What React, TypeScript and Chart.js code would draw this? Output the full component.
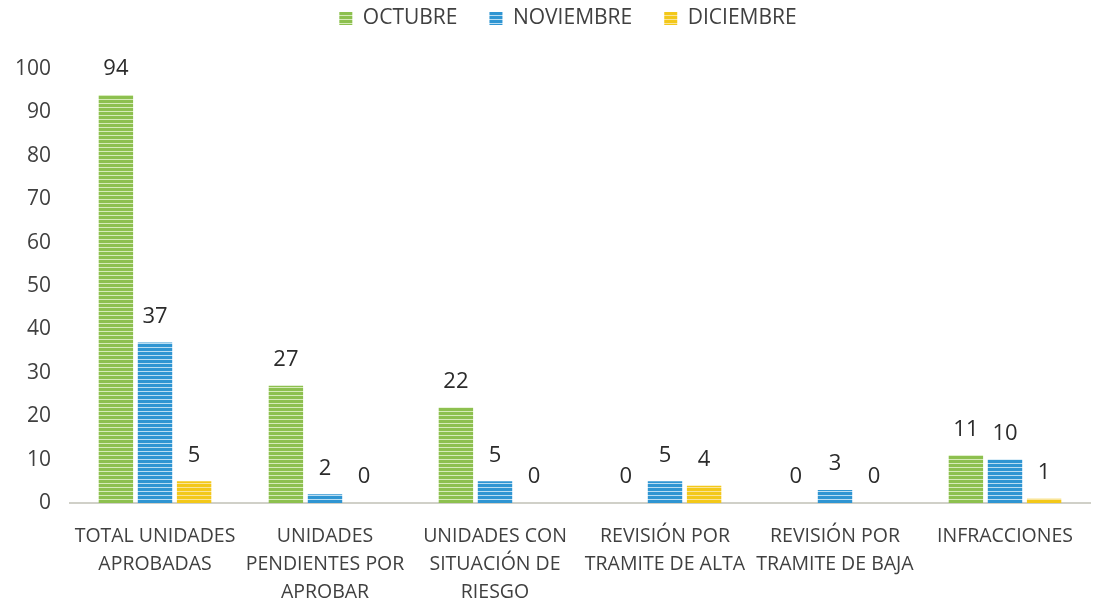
import React, { useEffect, useRef } from "react";
import { Chart, registerables } from "chart.js";

Chart.register(...registerables);

const categories: string[][] = [
  ["TOTAL UNIDADES", "APROBADAS"],
  ["UNIDADES", "PENDIENTES POR", "APROBAR"],
  ["UNIDADES CON", "SITUACIÓN DE", "RIESGO"],
  ["REVISIÓN POR", "TRAMITE DE ALTA"],
  ["REVISIÓN POR", "TRAMITE DE BAJA"],
  ["INFRACCIONES"],
];
const octubre = [94, 27, 22, 0, 0, 11];
const noviembre = [37, 2, 5, 5, 3, 10];
const diciembre = [5, 0, 0, 4, 0, 1];
const seriesNames = ["OCTUBRE", "NOVIEMBRE", "DICIEMBRE"];
const yTicks = [0, 10, 20, 30, 40, 50, 60, 70, 80, 90, 100];

const FONT = "'Open Sans', 'Noto Sans', sans-serif";

function stripe(base: string, light: string): CanvasPattern | string {
  const c = document.createElement("canvas");
  c.width = 4;
  c.height = 4;
  const ctx = c.getContext("2d");
  if (!ctx) return base;
  ctx.fillStyle = base;
  ctx.fillRect(0, 0, 4, 4);
  ctx.fillStyle = light;
  ctx.fillRect(0, 3, 4, 1);
  const p = ctx.createPattern(c, "repeat");
  return p || base;
}

const valueLabels = {
  id: "valueLabels",
  beforeUpdate(chart: any) {
    const lg = chart.legend;
    if (lg && !lg.__patched) {
      const orig = lg.fit;
      lg.fit = function () {
        orig.call(this);
        this.height = 93;
      };
      lg.__patched = true;
    }
  },
  afterLayout(chart: any) {
    const lg = chart.legend;
    if (lg) {
      lg.left += 23;
      lg.right += 23;
    }
  },
  afterDatasetsDraw(chart: any) {
    const ctx = chart.ctx;
    ctx.save();
    ctx.font = `22px ${FONT}`;
    ctx.fillStyle = "#2b2b2b";
    ctx.textAlign = "center";
    ctx.textBaseline = "middle";
    chart.data.datasets.forEach((ds: any, i: number) => {
      const meta = chart.getDatasetMeta(i);
      meta.data.forEach((bar: any, j: number) => {
        ctx.fillText(String(ds.data[j]), bar.x, bar.y - 26);
      });
    });
    ctx.restore();
  },
};

export default function App() {
  const ref = useRef<HTMLCanvasElement | null>(null);
  useEffect(() => {
    if (!ref.current) return;
    const green = stripe("#8dc04f", "#d6ebb8");
    const blue = stripe("#2f95d2", "#b9ddf2");
    const yellow = stripe("#f3c81a", "#f9e49a");
    const chart = new Chart(ref.current, {
      type: "bar",
      data: {
        labels: categories,
        datasets: [
          { label: seriesNames[0], data: octubre, backgroundColor: green as any },
          { label: seriesNames[1], data: noviembre, backgroundColor: blue as any },
          { label: seriesNames[2], data: diciembre, backgroundColor: yellow as any },
        ],
      },
      options: {
        responsive: false,
        animation: false,
        maintainAspectRatio: false,
        layout: { padding: { top: -24, right: 5, left: 0, bottom: 0 } },
        datasets: { bar: { categoryPercentage: 0.69, barPercentage: 0.88 } },
        plugins: {
          legend: {
            position: "top",
            labels: {
              boxWidth: 13,
              boxHeight: 13,
              padding: 32,
              color: "#404040",
              font: { family: FONT, size: 21 },
            },
          },
          tooltip: { enabled: false },
        },
        scales: {
          x: {
            grid: { display: false, drawTicks: false },
            border: { display: true, color: "#d0d0c8", width: 2 },
            ticks: {
              color: "#404040",
              font: { family: FONT, size: 19.5, lineHeight: 1.42 },
              maxRotation: 0,
              autoSkip: false,
              padding: 20,
            },
            afterFit(scale: any) {
              scale.height = 102;
            },
          },
          y: {
            min: 0,
            max: 100,
            afterBuildTicks(scale: any) {
              scale.ticks = yTicks.map((v) => ({ value: v }));
            },
            grid: { display: false, drawTicks: false },
            border: { display: false },
            ticks: {
              color: "#404040",
              font: { family: FONT, size: 21 },
              padding: 19,
            },
            afterFit(scale: any) {
              scale.width = 70;
            },
          },
        },
      },
      plugins: [valueLabels],
    });
    return () => chart.destroy();
  }, []);
  return (
    <div style={{ position: "fixed", left: 0, top: 0, width: 1095, height: 605, background: "#fff" }}>
      <canvas ref={ref} width={1095} height={605} style={{ width: 1095, height: 605 }} />
    </div>
  );
}
